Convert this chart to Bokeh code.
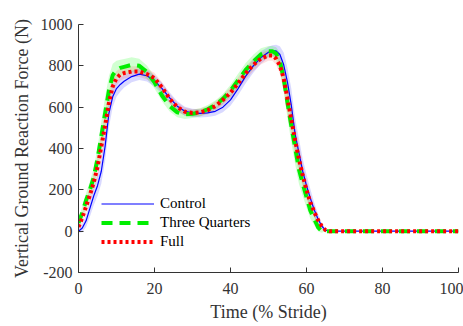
from bokeh.plotting import figure
from bokeh.models import Legend, LegendItem, FixedTicker, Range1d
from bokeh.embed import file_html
from bokeh.resources import INLINE

x = [0, 1, 2, 3, 4, 5, 6, 7, 8, 9, 10, 11, 12,
     14, 16, 18, 20, 22, 24, 26, 28, 30, 32, 34, 36, 38, 40, 42, 44, 46, 48, 50,
     51, 52, 53, 54, 55, 56, 57, 58, 59, 60, 61, 62, 63, 64, 65, 66,
     70, 75, 80, 85, 90, 95, 100]

control = [0, 15, 50, 110, 170, 220, 290, 410, 570, 650, 690, 710, 725,
           748, 760, 752, 728, 690, 645, 605, 580, 572, 570, 572, 580, 600, 635, 690, 750, 800, 840, 866,
           873, 872, 855, 805, 720, 610, 470, 380, 290, 220, 160, 105, 60, 25, 5, 0,
           0, 0, 0, 0, 0, 0, 0]
control_sd = [8, 20, 30, 40, 45, 50, 60, 70, 70, 50, 40, 35, 30,
              28, 28, 28, 28, 28, 26, 24, 22, 20, 20, 20, 22, 24, 28, 32, 34, 34, 30, 26,
              26, 30, 40, 60, 70, 80, 80, 70, 60, 55, 45, 35, 25, 15, 5, 0,
              0, 0, 0, 0, 0, 0, 0]

three_q = [40, 90, 150, 200, 260, 350, 460, 570, 680, 755, 780, 790, 795,
           805, 800, 770, 720, 655, 605, 575, 565, 568, 575, 590, 610, 640, 680, 730, 780, 820, 855, 870,
           870, 860, 820, 740, 620, 510, 405, 300, 230, 165, 100, 60, 20, 0, 0, 0,
           0, 0, 0, 0, 0, 0, 0]
three_q_sd = [20, 30, 35, 40, 45, 55, 70, 80, 70, 55, 45, 40, 38,
              36, 34, 32, 30, 28, 26, 24, 22, 20, 20, 20, 22, 24, 28, 32, 34, 34, 30, 26,
              26, 30, 45, 65, 75, 80, 80, 70, 60, 50, 40, 30, 20, 8, 0, 0,
              0, 0, 0, 0, 0, 0, 0]

full = [20, 65, 120, 175, 235, 310, 410, 510, 620, 700, 740, 758, 765,
        772, 772, 760, 740, 695, 640, 600, 578, 572, 575, 585, 605, 635, 670, 715, 765, 805, 835, 850,
        850, 835, 800, 740, 640, 540, 440, 350, 270, 200, 140, 95, 55, 25, 5, 0,
        0, 0, 0, 0, 0, 0, 0]
full_sd = [15, 25, 30, 35, 40, 50, 60, 70, 60, 45, 35, 30, 28,
           26, 26, 26, 26, 26, 24, 22, 20, 18, 18, 20, 22, 24, 28, 30, 32, 30, 28, 25,
           25, 30, 40, 60, 70, 75, 75, 65, 55, 45, 35, 28, 20, 10, 3, 0,
           0, 0, 0, 0, 0, 0, 0]

x_ticks = [0, 20, 40, 60, 80, 100]
y_ticks = [-200, 0, 200, 400, 600, 800, 1000]
y_tick_labels = {-200: "-200", 0: "0", 200: "200", 400: "400", 600: "600", 800: "800", 1000: "1000"}

FONT = "Liberation Serif"
AX = "#333333"

p = figure(width=463, height=324, output_backend="svg", toolbar_location=None,
           x_range=Range1d(0, 100), y_range=Range1d(-200, 1000),
           min_border_left=78, min_border_right=5, min_border_top=24, min_border_bottom=49)
p.outline_line_color = None
p.grid.visible = False
p.background_fill_color = "white"

bands = [(control, control_sd, "#0000ff", 0.15),
         (three_q, three_q_sd, "#00ff00", 0.18),
         (full, full_sd, "#ff0000", 0.12)]
for ys, sd, col, a in bands:
    lo = [v - s for v, s in zip(ys, sd)]
    hi = [v + s for v, s in zip(ys, sd)]
    p.varea(x=x, y1=lo, y2=hi, fill_color=col, fill_alpha=a)

r1 = p.line(x, control, line_color="#0000ff", line_width=1.2)
r2 = p.line(x, three_q, line_color="#00ee00", line_width=4, line_dash="11 7")
r3 = p.line(x, full, line_color="#ff0000", line_width=4, line_dash="3 3")

legend = Legend(items=[LegendItem(label="Control", renderers=[r1]),
                       LegendItem(label="Three Quarters", renderers=[r2]),
                       LegendItem(label="Full", renderers=[r3])],
                location=(23, 21), background_fill_alpha=0, border_line_color=None,
                label_text_font=FONT, label_text_font_size="15px", label_text_color="#000000",
                glyph_width=53, glyph_height=19, label_height=19, spacing=0, padding=2,
                label_standoff=6, margin=0)
p.add_layout(legend, "center")

for ax in (p.xaxis[0], p.yaxis[0]):
    ax.axis_line_color = AX
    ax.major_tick_line_color = AX
    ax.major_tick_in = 5
    ax.major_tick_out = 0
    ax.minor_tick_line_color = None
    ax.major_label_text_font = FONT
    ax.major_label_text_font_size = "16px"
    ax.major_label_text_color = AX
    ax.axis_label_text_font = FONT
    ax.axis_label_text_font_size = "18px"
    ax.axis_label_text_font_style = "normal"
    ax.axis_label_text_color = AX

p.xaxis.ticker = FixedTicker(ticks=x_ticks)
p.yaxis.ticker = FixedTicker(ticks=y_ticks)
p.yaxis.major_label_overrides = y_tick_labels
p.xaxis.axis_label = "Time (% Stride)"
p.yaxis.axis_label = "Vertical Ground Reaction Force (N)"
p.xaxis.axis_label_standoff = 5
p.yaxis.axis_label_standoff = 6
p.xaxis.major_label_standoff = 10
p.yaxis.major_label_standoff = 6

open("out.html", "w").write(file_html(p, INLINE))
